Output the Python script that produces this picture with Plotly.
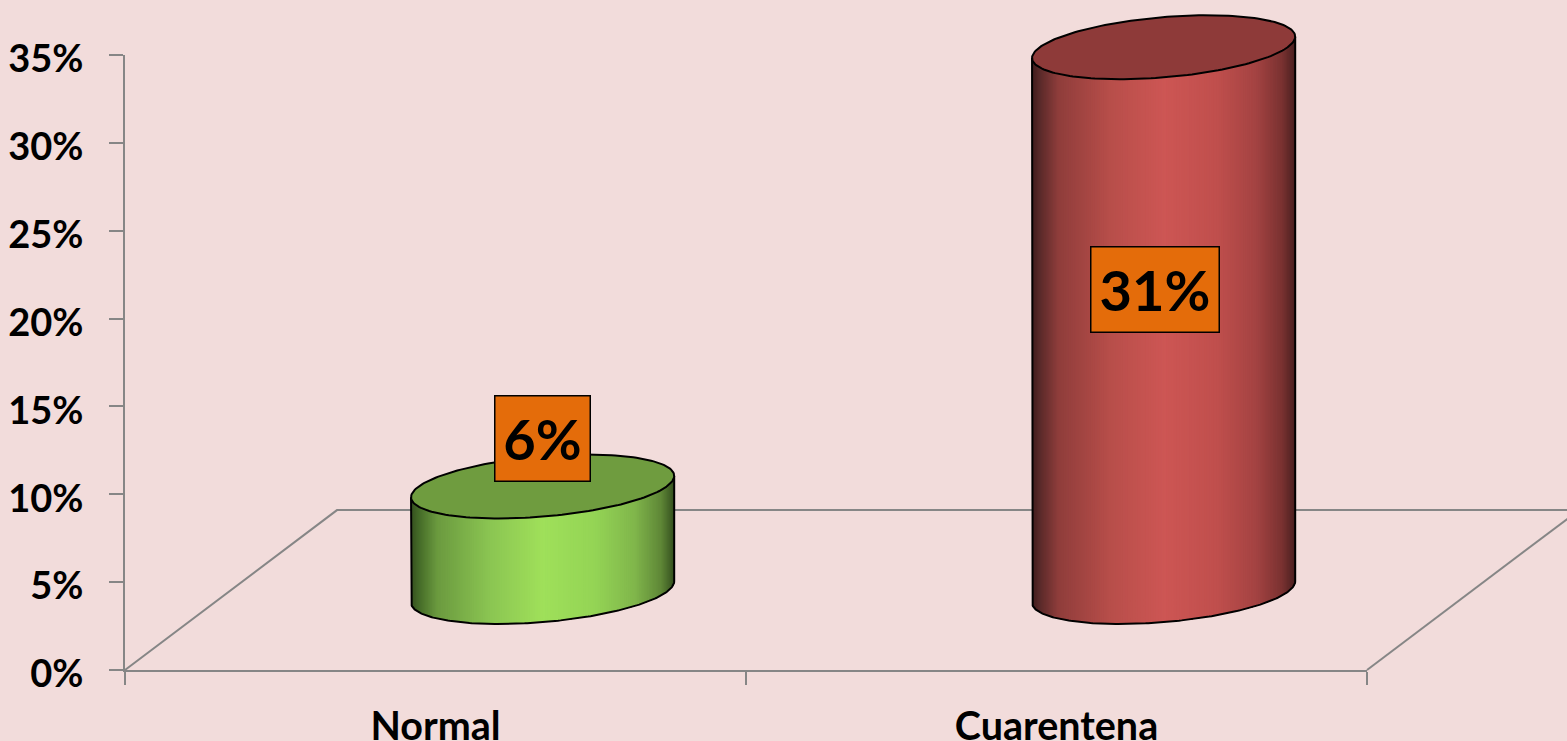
import numpy as np
import plotly.graph_objects as go

categories = ["Normal", "Cuarentena"]
values = [6, 31]
value_labels = ["6%", "31%"]
y_ticks = [0, 5, 10, 15, 20, 25, 30, 35]
y_tick_text = ["0%", "5%", "10%", "15%", "20%", "25%", "30%", "35%"]

# chart frame in pixels
W, H = 1567, 741
L, RIGHT, T, BOTTOM = 125, 1367, 55, 670
AXIS = "#868686"
BG = "#F2DCDB"
FONT = "Lato"
AXIS_W = 2

# pixel sizes of one axis unit, used to let the second axes share the main scale
PX_X = (RIGHT - L) / 2
PX_Y = (BOTTOM - T) / 35

# 3-D floor projection, in axis units
DEPTH_X = 212 / 621
DEPTH_Y = 9.1
# cylinder footprint, in axis units
SHIFT = 0.6725
BASE_Y = 4.44
A, SHEAR, C = 124 / 621, 44 / 621, 1.82

tops = ["#6F9C3F", "#8E3A39"]
stops = [0, .03, .1, .3, .5, .7, .85, .95, 1]
ramps = [
    ["#35501F", "#456B28", "#6B9A3F", "#8BC552", "#9FE05A", "#94D455", "#80B64B", "#5F8737", "#35501F"],
    ["#3F1C1C", "#5A2A2A", "#8F3D3B", "#B84E4A", "#CD5654", "#C04F4D", "#A44342", "#7A3231", "#4A2020"],
]

def rgb(h):
    return np.array([int(h[i:i + 2], 16) for i in (1, 3, 5)], float)

def ramp(u, colors):
    c = [np.interp(u, stops, [rgb(h)[k] for h in colors]) for k in range(3)]
    return "rgb(%d,%d,%d)" % tuple(int(round(v)) for v in c)

fig = go.Figure()

# the plain values on the main axes: keeps those axes alive, the cylinders below draw them
fig.add_trace(go.Bar(x=[0.5, 1.5], y=values, marker=dict(opacity=0), hoverinfo="skip",
                     showlegend=False))

def add(x, y, **kw):
    fig.add_trace(go.Scatter(x=x, y=y, xaxis="x2", yaxis="y2", hoverinfo="skip",
                             showlegend=False, **kw))

# floor
add([0, DEPTH_X, 2 + DEPTH_X], [0, DEPTH_Y, DEPTH_Y], mode="lines",
    line=dict(color=AXIS, width=AXIS_W))
add([2, 2 + DEPTH_X], [0, DEPTH_Y], mode="lines", line=dict(color=AXIS, width=AXIS_W))

theta = np.arctan2(SHEAR, A)
half = np.hypot(A, SHEAR)
ts = np.linspace(np.pi + theta, 2 * np.pi + theta, 161)
ring = np.linspace(0, 2 * np.pi, 181)

for i, v in enumerate(values):
    cx = i + SHIFT
    fx = cx + A * np.cos(ts) + SHEAR * np.sin(ts)
    fy = BASE_Y + C * np.sin(ts)
    for k in range(len(ts) - 1):
        u = ((fx[k] + fx[k + 1]) / 2 - (cx - half)) / (2 * half)
        col = ramp(u, ramps[i])
        # each slice runs to the right edge, the next one paints over it: no seams
        add(np.r_[fx[k:], fx[k:][::-1], fx[k]],
            np.r_[fy[k:], (fy[k:] + v)[::-1], fy[k]],
            mode="lines", fill="toself", fillcolor=col, line=dict(width=0))
    # side outline
    add(np.r_[fx[0], fx, fx[-1]], np.r_[fy[0] + v, fy, fy[-1] + v], mode="lines",
        line=dict(color="#000000", width=2))
    # top cap
    add(cx + A * np.cos(ring) + SHEAR * np.sin(ring), BASE_Y + v + C * np.sin(ring),
        mode="lines", fill="toself", fillcolor=tops[i], line=dict(color="#000000", width=2))

# value labels
label_x = [0.6715, 1.658]
label_y = [13.2, 21.63]
label_w = [94, 127]
for i, t in enumerate(value_labels):
    fig.add_annotation(xref="x2", yref="y2", x=label_x[i], y=label_y[i], text="<b>%s</b>" % t,
                       showarrow=False, xanchor="center", yanchor="middle",
                       width=label_w[i], height=84,
                       bgcolor="#E46C0A", bordercolor="#000000", borderwidth=1.5, borderpad=0,
                       align="center", valign="middle",
                       font=dict(family=FONT, size=56, color="#000000"))

fig.update_layout(
    width=W, height=H, autosize=False,
    paper_bgcolor=BG, plot_bgcolor="rgba(0,0,0,0)",
    margin=dict(l=0, r=0, t=0, b=0, pad=0),
    xaxis=dict(domain=[L / W, RIGHT / W], range=[0, 2], tickmode="array", tickvals=[0.5, 1.5],
               ticktext=categories, ticks="", showgrid=False, zeroline=False, showline=True,
               linecolor=AXIS, linewidth=AXIS_W, ticklabelstandoff=21, automargin=False,
               anchor="y",
               tickfont=dict(family=FONT, size=39.5, color="#000000", weight=700),
               minor=dict(tickmode="array", tickvals=[0, 1, 2], ticks="outside", ticklen=13,
                          tickcolor=AXIS, tickwidth=AXIS_W, showgrid=False)),
    yaxis=dict(domain=[(H - BOTTOM) / H, (H - T) / H], range=[0, 35], tickmode="array",
               tickvals=y_ticks, ticktext=y_tick_text, ticks="outside", ticklen=14,
               tickcolor=AXIS, tickwidth=AXIS_W, showgrid=False, zeroline=False, showline=True,
               linecolor=AXIS, linewidth=AXIS_W, ticklabelstandoff=18, ticklabelshift=4,
               automargin=False, anchor="x",
               tickfont=dict(family=FONT, size=38, color="#000000", weight=700)),
    xaxis2=dict(domain=[0, 1], range=[-L / PX_X, (W - L) / PX_X], visible=False,
                anchor="y2", fixedrange=True),
    yaxis2=dict(domain=[0, 1], range=[-(H - BOTTOM) / PX_Y, 35 + T / PX_Y],
                visible=False, anchor="x2", fixedrange=True),
)

fig.write_html("out.html", config=dict(displayModeBar=False),
               post_script="document.body.style.margin='0';document.body.style.overflow='hidden';")
